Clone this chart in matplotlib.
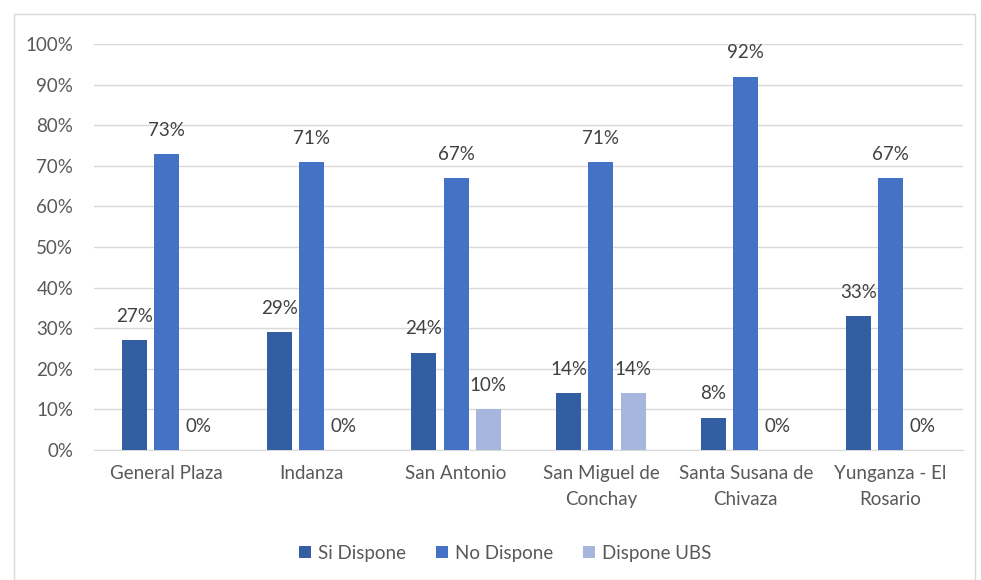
import numpy as np
import matplotlib
matplotlib.use('Agg')
import matplotlib.pyplot as plt
from matplotlib.patches import Rectangle

plt.rcParams['font.family'] = ['Lato', 'DejaVu Sans']

categories = ['General Plaza', 'Indanza', 'San Antonio', 'San Miguel de\nConchay',
              'Santa Susana de\nChivaza', 'Yunganza - El\nRosario']
si_dispone = [27, 29, 24, 14, 8, 33]
no_dispone = [73, 71, 67, 71, 92, 67]
dispone_ubs = [0, 0, 10, 14, 0, 0]
series_names = ['Si Dispone', 'No Dispone', 'Dispone UBS']
colors = ['#345ea2', '#4472c4', '#a7b6dc']

fig = plt.figure(figsize=(9.81, 5.8), dpi=100)
fig.patches.append(Rectangle((0.014, 0.0), 0.98, 0.976, transform=fig.transFigure,
                             fill=False, edgecolor='#d9d9d9', linewidth=1))
ax = fig.add_axes([0.0958, 0.2241, 0.8858, 0.70])

x = np.arange(len(categories))
offset = 0.222
width = 0.173
for k, (vals, name, col) in enumerate(zip([si_dispone, no_dispone, dispone_ubs], series_names, colors)):
    pos = x + (k - 1) * offset
    ax.bar(pos, vals, width=width, color=col, label=name, zorder=3)
    for p, v in zip(pos, vals):
        ax.annotate('%d%%' % v, (p, v), xytext=(0, 17), textcoords='offset points',
                    ha='center', va='center', fontsize=13.5, color='#404040')

ax.set_xlim(-0.5, len(categories) - 0.5)
ax.set_ylim(0, 100)
ax.set_yticks(range(0, 101, 10))
ax.set_yticklabels(['%d%%' % t for t in range(0, 101, 10)])
ax.set_xticks(x)
ax.set_xticklabels(categories, linespacing=1.65)
ax.tick_params(axis='both', length=0, labelsize=13.5, labelcolor='#595959')
ax.tick_params(axis='x', pad=11)
ax.tick_params(axis='y', pad=15)
ax.grid(axis='y', color='#d9d9d9', linewidth=1, zorder=0)
for s in ['top', 'right', 'left']:
    ax.spines[s].set_visible(False)
ax.spines['bottom'].set_color('#d9d9d9')

leg = fig.legend(loc='center', bbox_to_anchor=(0.515, 0.046), ncol=3, frameon=False,
                 fontsize=13.5, handlelength=0.65, handleheight=0.65, handletextpad=0.35,
                 columnspacing=1.6)
for t in leg.get_texts():
    t.set_color('#595959')

fig.savefig('out.png', dpi=100)
